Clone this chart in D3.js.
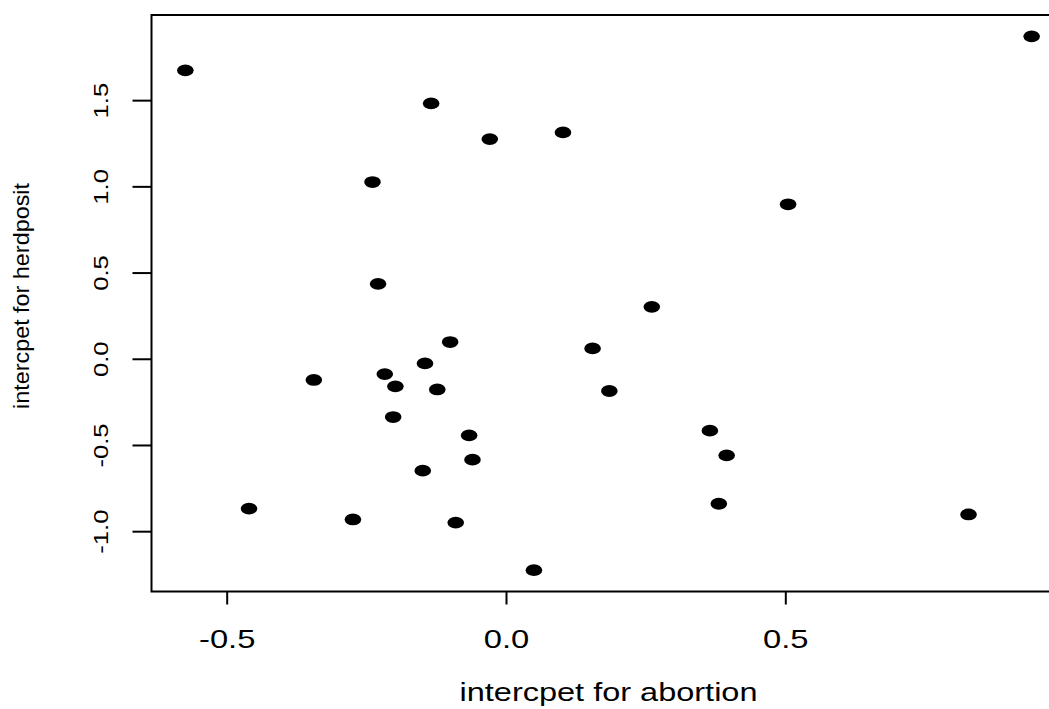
<!DOCTYPE html>
<html>
<head>
<meta charset="utf-8">
<script src="https://cdn.jsdelivr.net/npm/d3@7"></script>
<style>
  body { margin: 0; background: #fff; }
  text { font-family: "Liberation Sans", Arial, sans-serif; fill: #000; }
</style>
</head>
<body>
<svg id="canvas" width="1049" height="709"></svg>
<script>
const width = 1049
const height = 709

// intercept estimates
const abortion = [-0.574, 0.941, -0.134, -0.029, 0.102, -0.239, 0.505, -0.229, 0.261, -0.100,
    -0.145, 0.155, -0.217, -0.344, -0.198, -0.123, 0.185, -0.202, 0.365, -0.066,
    0.395, -0.060, -0.149, 0.381, -0.460, -0.274, -0.090, 0.828, 0.050]
const herdposit = [1.673, 1.870, 1.481, 1.274, 1.313, 1.025, 0.896, 0.434, 0.301, 0.097,
    -0.027, 0.060, -0.089, -0.123, -0.160, -0.178, -0.187, -0.338, -0.417, -0.444,
    -0.560, -0.585, -0.649, -0.841, -0.869, -0.932, -0.950, -0.903, -1.226]

const xTicks = [-0.5, 0.0, 0.5]
const yTicks = [-1.0, -0.5, 0.0, 0.5, 1.0, 1.5]
const xLabel = "intercpet for abortion"
const yLabel = "intercpet for herdposit"

const points = abortion.map((d, i) => ({ x: d, y: herdposit[i] }))

// R style: pad the data range by 4% on both ends
function rRange(vals) {
    const [lo, hi] = d3.extent(vals)
    const pad = (hi - lo) * 0.04
    return [lo - pad, hi + pad]
}

const plotLeft = 151.5, plotRight = 1065.5, plotTop = 15, plotBottom = 591.5

const x = d3.scaleLinear().domain(rRange(abortion)).range([plotLeft, plotRight])
const y = d3.scaleLinear().domain(rRange(herdposit)).range([plotBottom, plotTop])

const fmt = d => d3.format(".1f")(d).replace("−", "-")

const canvas = d3.select("#canvas")

// points
canvas.append("g")
    .selectAll("ellipse")
    .data(points)
    .enter().append("ellipse")
    .attr("cx", d => x(d.x))
    .attr("cy", d => y(d.y))
    .attr("rx", 8.3)
    .attr("ry", 5.9)
    .attr("fill", "black")

// box
canvas.append("rect")
    .attr("x", plotLeft)
    .attr("y", plotTop)
    .attr("width", plotRight - plotLeft)
    .attr("height", plotBottom - plotTop)
    .attr("fill", "none")
    .attr("stroke", "black")
    .attr("stroke-width", 2)

// x axis
const xAxis = canvas.append("g")
    .attr("transform", `translate(0,${plotBottom})`)
    .call(d3.axisBottom(x).tickValues(xTicks).tickSize(13).tickSizeOuter(0))
xAxis.select(".domain").remove()
xAxis.selectAll(".tick line").attr("stroke", "black").attr("stroke-width", 2)
xAxis.selectAll(".tick text")
    .attr("y", null).attr("dy", null)
    .attr("font-size", 25)
    .attr("font-family", null)
    .attr("text-anchor", "middle")
    .attr("transform", "translate(0,56.5) scale(1.31,1)")
    .text(fmt)

// y axis
const yAxis = canvas.append("g")
    .attr("transform", `translate(${plotLeft},0)`)
    .call(d3.axisLeft(y).tickValues(yTicks).tickSize(19).tickSizeOuter(0))
yAxis.select(".domain").remove()
yAxis.selectAll(".tick line").attr("stroke", "black").attr("stroke-width", 2)
yAxis.selectAll(".tick text")
    .attr("x", null).attr("dy", null)
    .attr("font-size", 21)
    .attr("text-anchor", "middle")
    .attr("transform", `translate(${108 - plotLeft},0) rotate(-90) scale(1.22,1)`)
    .text(fmt)

canvas.selectAll("g").attr("font-family", null).attr("font-size", null)

// axis titles
canvas.append("text")
    .attr("font-size", 25)
    .attr("text-anchor", "middle")
    .attr("transform", `translate(${(plotLeft + plotRight) / 2},701) scale(1.3,1)`)
    .text(xLabel)

canvas.append("text")
    .attr("font-size", 21.3)
    .attr("text-anchor", "middle")
    .attr("textLength", 226)
    .attr("lengthAdjust", "spacingAndGlyphs")
    .attr("transform", "translate(28.8,296) rotate(-90)")
    .text(yLabel)
</script>
</body>
</html>
